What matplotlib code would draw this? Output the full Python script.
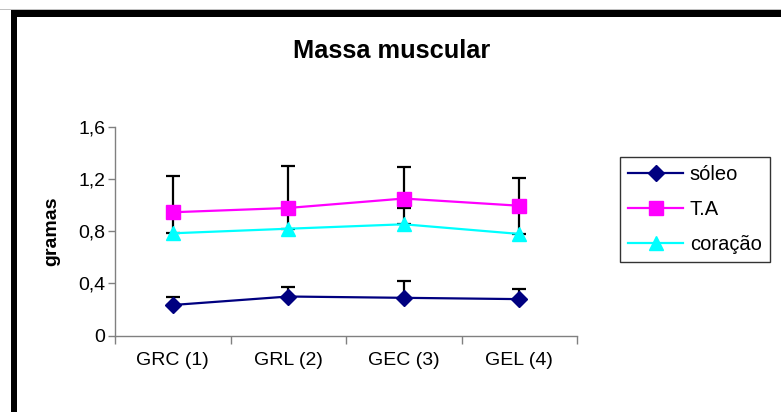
import matplotlib
matplotlib.use("Agg")
import matplotlib.pyplot as plt
from matplotlib.patches import Rectangle
import numpy as np

categories = ["GRC (1)", "GRL (2)", "GEC (3)", "GEL (4)"]
soleo = [0.235, 0.30, 0.29, 0.28]
soleo_err = [0.065, 0.07, 0.13, 0.075]
ta = [0.945, 0.978, 1.05, 0.995]
ta_err = [0.275, 0.32, 0.245, 0.215]
coracao = [0.784, 0.819, 0.853, 0.779]
coracao_err = [0.13, 0.13, 0.127, 0.17]
yticks = [0, 0.4, 0.8, 1.2, 1.6]
ytick_labels = ["0", "0,4", "0,8", "1,2", "1,6"]

plt.rcParams['font.family'] = ['Liberation Sans', 'DejaVu Sans']

fig = plt.figure(figsize=(7.81, 4.12), dpi=100)
ax = fig.add_axes([115/781, 1-335.7/412, 462/781, 209/412])

x = np.arange(len(categories))
zeros = np.zeros(len(categories))

ekw = dict(fmt='none', ecolor='black', elinewidth=1.6, capsize=4.8, capthick=1.6)
ax.errorbar(x, coracao, yerr=[zeros, coracao_err], zorder=2, **ekw)
ax.errorbar(x, soleo, yerr=[zeros, soleo_err], zorder=2, **ekw)
ax.errorbar(x, ta, yerr=[zeros, ta_err], zorder=2, **ekw)

ax.plot(x, soleo, color='#000080', lw=1.6, marker='D', ms=8.5, label='sóleo', zorder=4)
ax.plot(x, coracao, color='#00FFFF', lw=1.6, marker='^', ms=10, label='coração', zorder=3)
ax.plot(x, ta, color='#FF00FF', lw=1.6, marker='s', ms=9.5, label='T.A', zorder=5)

ax.set_xlim(-0.5, 3.5)
ax.set_ylim(0, 1.6)
ax.set_yticks(yticks)
ax.set_yticklabels(ytick_labels)
ax.set_xticks(np.arange(-0.5, 4, 1.0))
ax.set_xticklabels([])
ax.set_xticks(x, minor=True)
ax.set_xticklabels(categories, minor=True)
ax.tick_params(axis='x', which='minor', length=0, pad=12, labelsize=14)
ax.tick_params(axis='x', which='major', length=6, width=1, color='#808080', direction='out')
ax.tick_params(axis='y', length=5, width=1, color='#808080', direction='out', labelsize=14, pad=2)

for s in ['top', 'right']:
    ax.spines[s].set_visible(False)
for s in ['left', 'bottom']:
    ax.spines[s].set_color('#808080')
    ax.spines[s].set_linewidth(1)

ax.set_ylabel('gramas', fontsize=14, fontweight='bold', labelpad=13)

fig.text(392/781, 1-51/412, 'Massa muscular', ha='center', va='center', fontsize=18.3, fontweight='bold')

handles, labels = ax.get_legend_handles_labels()
order = [0, 2, 1]
leg = ax.legend([handles[i] for i in order], [labels[i] for i in order],
                loc='upper left', bbox_to_anchor=(620/781, 1-157/412), bbox_transform=fig.transFigure,
                frameon=True, fancybox=False, edgecolor='black', fontsize=14.5,
                handlelength=2.7, handletextpad=0.35, labelspacing=0.78, borderpad=0.42,
                borderaxespad=0)
leg.get_frame().set_linewidth(1)

# border
fig.patches.append(Rectangle((0, 1-10/412), 1, 1/412, transform=fig.transFigure, color='#c0c0c0', lw=0))
fig.patches.append(Rectangle((11/781, 1-17/412), 1-11/781, 7/412, transform=fig.transFigure, color='black', lw=0))
fig.patches.append(Rectangle((11/781, 0), 6/781, 1-10/412, transform=fig.transFigure, color='black', lw=0))

fig.savefig('out.png', dpi=100)
